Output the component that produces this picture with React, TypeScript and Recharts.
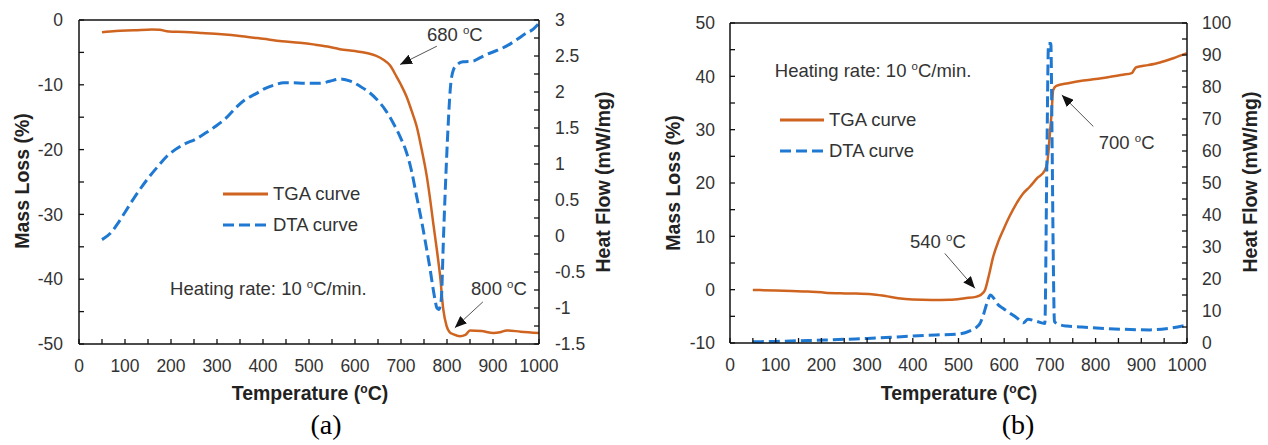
import React from 'react'
import {
  Legend,
  Line,
  LineChart,
  ReferenceDot,
  ReferenceLine,
  XAxis,
  YAxis,
} from 'recharts'

// ---- (a) ----
const tgaTempA = [50, 80, 120, 158, 175, 195, 230, 267, 310, 354, 400, 441, 480, 513, 540, 567, 600, 625, 645, 661, 676, 690, 700, 712, 723, 734, 745, 756, 763, 770, 778, 785, 792, 799, 806, 814, 828, 840, 850, 875, 901, 915, 930, 960, 1000]
const tgaMassA = [-1.9, -1.7, -1.6, -1.45, -1.5, -1.78, -1.85, -2.0, -2.2, -2.5, -2.9, -3.27, -3.5, -3.8, -4.1, -4.5, -4.8, -5.1, -5.5, -6.1, -7.0, -8.7, -10.0, -11.8, -14.0, -16.4, -20.0, -24.1, -27.5, -31.3, -35.5, -39.5, -44.7, -47.2, -48.2, -48.5, -48.8, -48.6, -47.9, -48.0, -48.3, -48.2, -47.9, -48.1, -48.3]
const dtaTempA = [50, 70, 85, 100, 122, 150, 172, 190, 209, 230, 252, 275, 296, 320, 339, 360, 383, 405, 426, 445, 462, 490, 524, 545, 567, 590, 611, 630, 647, 665, 683, 698, 712, 723, 734, 745, 756, 763, 770, 775, 778, 782, 785, 788, 792, 796, 799, 803, 807, 814, 822, 835, 857, 870, 886, 910, 930, 950, 973, 985, 998]
const dtaHeatA = [-0.05, 0.05, 0.18, 0.33, 0.55, 0.8, 0.97, 1.1, 1.2, 1.28, 1.34, 1.43, 1.52, 1.64, 1.77, 1.89, 1.97, 2.05, 2.1, 2.13, 2.13, 2.12, 2.12, 2.15, 2.18, 2.15, 2.08, 2.0, 1.9, 1.76, 1.57, 1.38, 1.16, 0.9, 0.55, 0.2, -0.19, -0.45, -0.74, -0.92, -1.0, -1.02, -0.98, -0.84, -0.09, 0.6, 1.06, 1.6, 2.03, 2.31, 2.38, 2.42, 2.43, 2.47, 2.52, 2.58, 2.64, 2.72, 2.82, 2.86, 2.94]

// ---- (b) ----
const tgaTempB = [50, 100, 135, 170, 208, 260, 310, 340, 368, 400, 441, 481, 514, 540, 550, 558, 566, 576, 587, 598, 612, 627, 641, 656, 672, 689, 694, 697, 700, 704, 707, 714, 740, 773, 800, 831, 860, 879, 884, 889, 915, 941, 970, 999]
const tgaMassB = [-0.05, -0.15, -0.25, -0.35, -0.56, -0.7, -0.85, -1.2, -1.6, -1.85, -1.94, -1.9, -1.6, -1.3, -0.9, -0.06, 2.5, 6.2, 9.0, 11.2, 13.8, 16.2, 18.0, 19.3, 20.9, 22.4, 23.7, 26.0, 29.3, 33.5, 37.4, 38.2, 38.7, 39.2, 39.5, 39.9, 40.3, 40.6, 41.2, 41.7, 42.1, 42.6, 43.4, 44.3]
const dtaTempB = [50, 100, 150, 208, 260, 300, 354, 400, 450, 500, 525, 540, 547, 555, 562, 570, 577, 584, 598, 613, 628, 642, 652, 670, 689, 693, 697, 702, 705, 707, 710, 720, 737, 770, 810, 860, 919, 960, 999]
const dtaHeatB = [0.4, 0.5, 0.7, 0.9, 1.2, 1.4, 1.8, 2.2, 2.5, 2.8, 3.8, 5.0, 6.1, 9.0, 12.4, 15.0, 14.0, 12.4, 10.8, 9.3, 7.8, 6.3, 7.4, 6.8, 6.1, 52, 93.6, 93.6, 60, 31.2, 6.7, 5.8, 5.3, 5.0, 4.6, 4.3, 4.1, 4.6, 5.6]

// ---- ticks ----
const tempTicks = [0, 50, 100, 150, 200, 250, 300, 350, 400, 450, 500, 550, 600, 650, 700, 750, 800, 850, 900, 950, 1000]
const massTicksA = [-50, -45, -40, -35, -30, -25, -20, -15, -10, -5, 0]
const heatTicksA = [-1.5, -1.25, -1, -0.75, -0.5, -0.25, 0, 0.25, 0.5, 0.75, 1, 1.25, 1.5, 1.75, 2, 2.25, 2.5, 2.75, 3]
const massTicksB = [-10, -5, 0, 5, 10, 15, 20, 25, 30, 35, 40, 45, 50]
const heatTicksB = [0, 5, 10, 15, 20, 25, 30, 35, 40, 45, 50, 55, 60, 65, 70, 75, 80, 85, 90, 95, 100]

const seriesNames = ['TGA curve', 'DTA curve']

const ORANGE = '#CF6420'
const BLUE = '#1F78D1'
const INK = '#333'
const AXIS = '#111'
const DASH = '11 5'
const FONT = '"Liberation Sans", Arial, sans-serif'
const TICK_FS = 17.5
const NOTE = 18.5
const MARK = 5

const pairs = (xs: number[], ys: number[]) => xs.map((t, i) => ({ t, v: ys[i] }))

const every = (step: number) => (v: number) =>
  Math.abs(v / step - Math.round(v / step)) < 1e-6 ? String(v) : ''

type Side = 'bottom' | 'left' | 'right'

// tick label plus a short inward tick mark (Recharts only draws outward marks)
const tickWithMark = (side: Side, gap: number, step: number) => (p: any) => {
  const { x, y, payload } = p
  const label = every(step)(payload.value)
  const txt = { fontSize: TICK_FS, fontFamily: FONT, fill: INK }
  if (side === 'bottom') {
    const ay = y - gap
    return (
      <g>
        <line x1={x} x2={x} y1={ay} y2={ay - MARK} stroke={AXIS} strokeWidth={1.3} />
        <text x={x} y={y} dy="0.71em" textAnchor="middle" {...txt}>{label}</text>
      </g>
    )
  }
  const ax = side === 'left' ? x + gap : x - gap
  const inner = side === 'left' ? ax + MARK : ax - MARK
  return (
    <g>
      <line x1={ax} x2={inner} y1={y} y2={y} stroke={AXIS} strokeWidth={1.3} />
      <text x={x} y={y} dy="0.355em" textAnchor={side === 'left' ? 'end' : 'start'} {...txt}>{label}</text>
    </g>
  )
}

// superscript "o" for the degree sign, like the source figure
function degText(s: string, size: number) {
  const i = s.indexOf('°')
  if (i < 0) return s
  const up = Math.round(size * 0.38)
  return [
    <tspan key="a">{s.slice(0, i)}</tspan>,
    <tspan key="b" dy={-up} fontSize={size * 0.62}>o</tspan>,
    <tspan key="c" dy={up} fontSize={size}>{s.slice(i + 1)}</tspan>,
  ]
}

const noteLabel = (text: string, anchor: 'start' | 'middle') => (p: any) => {
  const vb = p.viewBox
  return (
    <text
      x={vb.x + vb.width / 2}
      y={vb.y + vb.height / 2}
      dy="0.35em"
      textAnchor={anchor}
      fontSize={NOTE}
      fontFamily={FONT}
      fill={INK}
    >
      {degText(text, NOTE)}
    </text>
  )
}

function CurveLegend({ lineW, rowH }: { lineW: number; rowH: number }) {
  return (
    <div style={{ fontFamily: FONT, fontSize: NOTE, color: INK }}>
      {seriesNames.map((n, i) => (
        <div key={n} style={{ display: 'flex', alignItems: 'center', height: rowH, whiteSpace: 'nowrap' }}>
          <svg width={lineW} height={8} style={{ marginRight: 5 }}>
            <line
              x1={0}
              y1={4}
              x2={lineW}
              y2={4}
              stroke={i ? BLUE : ORANGE}
              strokeWidth={3}
              strokeDasharray={i ? DASH : undefined}
            />
          </svg>
          <span>{n}</span>
        </div>
      ))}
    </div>
  )
}

function Note({ yId, t, v, text, anchor = 'middle' }: any) {
  return (
    <ReferenceDot
      yAxisId={yId}
      x={t}
      y={v}
      r={1}
      fill="none"
      stroke="none"
      label={{ content: noteLabel(text, anchor) }}
    />
  )
}

function Arrow({ yId, from, to }: any) {
  return (
    <ReferenceLine
      yAxisId={yId}
      segment={[{ x: from[0], y: from[1] }, { x: to[0], y: to[1] }]}
      stroke="#555"
      strokeWidth={1}
      markerEnd="url(#tgaArrow)"
    />
  )
}

const axisLine = { stroke: AXIS, strokeWidth: 1.5 }

function xAxis(gap: number) {
  return (
    <XAxis
      dataKey="t"
      type="number"
      domain={[0, 1000]}
      ticks={tempTicks}
      interval={0}
      tick={tickWithMark('bottom', gap, 100)}
      tickSize={0}
      tickMargin={gap}
      height={30}
      axisLine={axisLine}
      tickLine={false}
    />
  )
}

function yAxis(id: string, side: 'left' | 'right', domain: number[], ticks: number[], step: number, width: number, gap: number) {
  return (
    <YAxis
      yAxisId={id}
      orientation={side}
      type="number"
      domain={domain}
      ticks={ticks}
      interval={0}
      tick={tickWithMark(side, gap, step)}
      tickSize={0}
      tickMargin={gap}
      width={width}
      axisLine={axisLine}
      tickLine={false}
    />
  )
}

function ChartA() {
  return (
    <LineChart width={634} height={445} margin={{ top: 20, right: 0, bottom: 71, left: 0 }}>
      {xAxis(15.5)}
      {yAxis('L', 'left', [-50, 0], massTicksA, 10, 79, 16)}
      {yAxis('R', 'right', [-1.5, 3], heatTicksA, 0.5, 95, 16)}
      <ReferenceLine yAxisId="L" y={0} stroke={AXIS} strokeWidth={1.5} />
      <Line
        yAxisId="L"
        data={pairs(tgaTempA, tgaMassA)}
        dataKey="v"
        type="monotone"
        stroke={ORANGE}
        strokeWidth={2.5}
        dot={false}
        isAnimationActive={false}
      />
      <Line
        yAxisId="R"
        data={pairs(dtaTempA, dtaHeatA)}
        dataKey="v"
        type="monotone"
        stroke={BLUE}
        strokeWidth={3}
        strokeDasharray={DASH}
        dot={false}
        isAnimationActive={false}
      />
      <Note yId="L" t={817} v={-2.2} text="680 °C" />
      <Arrow yId="L" from={[778, -4.04]} to={[698, -6.87]} />
      <Note yId="L" t={913} v={-41.4} text="800 °C" />
      <Arrow yId="L" from={[878, -43.5]} to={[817, -47.5]} />
      <Note yId="L" t={198} v={-41.4} text="Heating rate: 10 °C/min." anchor="start" />
      <Legend
        layout="vertical"
        align="center"
        verticalAlign="middle"
        wrapperStyle={{ top: 178.5, left: 223, width: 200 }}
        content={() => <CurveLegend lineW={45} rowH={31} />}
      />
    </LineChart>
  )
}

function ChartB() {
  return (
    <LineChart width={634} height={445} margin={{ top: 23, right: 0, bottom: 72, left: 0 }}>
      {xAxis(15.5)}
      {yAxis('L', 'left', [-10, 50], massTicksB, 10, 96, 15)}
      {yAxis('R', 'right', [0, 100], heatTicksB, 10, 81, 15)}
      <ReferenceLine yAxisId="L" y={50} stroke={AXIS} strokeWidth={1.5} />
      <Line
        yAxisId="L"
        data={pairs(tgaTempB, tgaMassB)}
        dataKey="v"
        type="monotone"
        stroke={ORANGE}
        strokeWidth={2.5}
        dot={false}
        isAnimationActive={false}
      />
      <Line
        yAxisId="R"
        data={pairs(dtaTempB, dtaHeatB)}
        dataKey="v"
        type="monotone"
        stroke={BLUE}
        strokeWidth={3}
        strokeDasharray={DASH}
        dot={false}
        isAnimationActive={false}
      />
      <Note yId="L" t={98} v={41} text="Heating rate: 10 °C/min." anchor="start" />
      <Note yId="L" t={455} v={9.0} text="540 °C" />
      <Arrow yId="L" from={[470, 6.8]} to={[536, 0.25]} />
      <Note yId="L" t={868} v={27.5} text="700 °C" />
      <Arrow yId="L" from={[795, 30.6]} to={[726, 36.5]} />
      <Legend
        layout="vertical"
        align="center"
        verticalAlign="middle"
        wrapperStyle={{ top: 104.6, left: 146, width: 200 }}
        content={() => <CurveLegend lineW={44} rowH={30.7} />}
      />
    </LineChart>
  )
}

function Title({ x, y, text, rotate = false }: { x: number; y: number; text: string; rotate?: boolean }) {
  return (
    <text
      x={x}
      y={y}
      dy="0.35em"
      textAnchor="middle"
      fontSize={19.5}
      fontWeight="bold"
      fontFamily={FONT}
      fill="#222"
      transform={rotate ? `rotate(-90 ${x} ${y})` : undefined}
    >
      {degText(text, 19.5)}
    </text>
  )
}

export default function App() {
  return (
    <div style={{ position: 'absolute', left: 0, top: 0, width: 1268, height: 445, background: '#fff', fontFamily: FONT }}>
      <svg width={0} height={0} style={{ position: 'absolute' }}>
        <defs>
          <marker
            id="tgaArrow"
            markerUnits="userSpaceOnUse"
            markerWidth={12}
            markerHeight={10}
            refX={12}
            refY={5}
            orient="auto"
          >
            <path d="M0,0 L12,5 L0,10 z" fill="#111" />
          </marker>
        </defs>
      </svg>
      <div style={{ position: 'absolute', left: 0, top: 0 }}>
        <ChartA />
      </div>
      <div style={{ position: 'absolute', left: 634, top: 0 }}>
        <ChartB />
      </div>
      <svg width={1268} height={445} style={{ position: 'absolute', left: 0, top: 0, pointerEvents: 'none' }}>
        <Title x={22} y={181} text="Mass Loss (%)" rotate />
        <Title x={603} y={182} text="Heat Flow (mW/mg)" rotate />
        <Title x={310} y={393} text="Temperature (°C)" />
        <Title x={673} y={183} text="Mass Loss (%)" rotate />
        <Title x={1250} y={182} text="Heat Flow (mW/mg)" rotate />
        <Title x={959} y={393} text="Temperature (°C)" />
        <text x={326} y={434} textAnchor="middle" fontSize={28} fontFamily='"Liberation Serif", "Times New Roman", serif' fill="#000">
          (a)
        </text>
        <text x={1018} y={434} textAnchor="middle" fontSize={28} fontFamily='"Liberation Serif", "Times New Roman", serif' fill="#000">
          (b)
        </text>
      </svg>
    </div>
  )
}
